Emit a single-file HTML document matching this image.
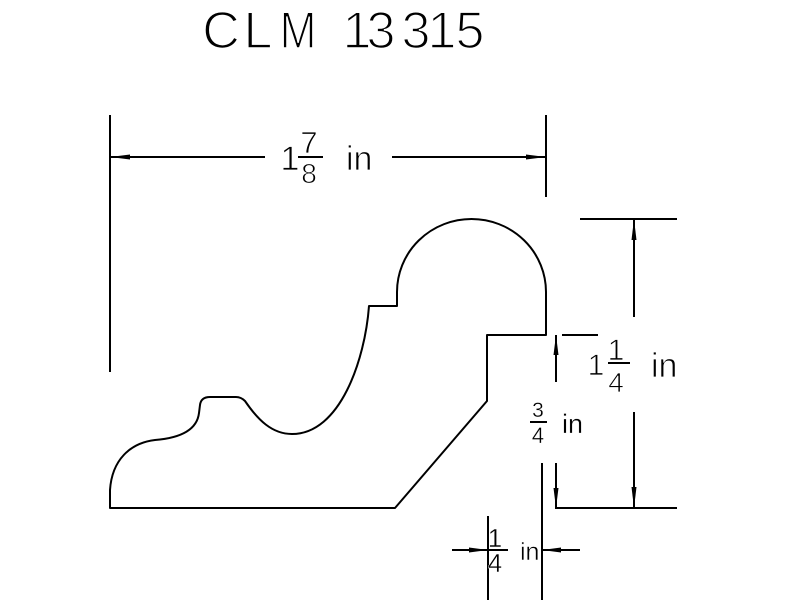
<!DOCTYPE html>
<html>
<head>
<meta charset="utf-8">
<style>
html,body{margin:0;padding:0;background:#fff;}
svg{display:block;}
text{font-family:"Liberation Sans",sans-serif;fill:#000;stroke:#fff;}
</style>
</head>
<body>
<svg width="800" height="600" viewBox="0 0 800 600" xmlns="http://www.w3.org/2000/svg">
<rect width="800" height="600" fill="#fff"/>

<!-- Title -->
<g font-size="52" stroke-width="1.6" text-anchor="middle">
<text x="221" y="48">C</text>
<text x="258" y="48">L</text>
<text x="298" y="48" transform="translate(298 0) scale(0.85 1) translate(-298 0)">M</text>
<text x="357" y="48">1</text>
<text x="381" y="48">3</text>
<text x="416" y="48">3</text>
<text x="442" y="48">1</text>
<text x="470" y="48">5</text>
</g>

<!-- Profile -->
<path d="M110 508 L395 508 L487 401 L487 335 L546 335 L546 292
A74.5 73 0 0 0 397 292 L397 306 L369 306
C365 360 340 434 292 434
C272 434 258 420 245 401
Q241 397 236 397 L210 397 Q201 397 200 405 L199 413
C197 430 180 438 155 440
C130 443 112 460 110 490 L110 508 Z"
fill="none" stroke="#000" stroke-width="2" stroke-linejoin="round"/>

<g stroke="#000" stroke-width="2" fill="none">
<!-- top horizontal dim -->
<line x1="110" y1="115" x2="110" y2="372"/>
<line x1="546" y1="115" x2="546" y2="197"/>
<line x1="110" y1="157" x2="265" y2="157"/>
<line x1="392" y1="157" x2="546" y2="157"/>
<line x1="298" y1="157" x2="323" y2="157"/>

<!-- right 1 1/4 dim -->
<line x1="580" y1="219" x2="677" y2="219"/>
<line x1="555" y1="508" x2="677" y2="508"/>
<line x1="634" y1="219" x2="634" y2="317"/>
<line x1="634" y1="412" x2="634" y2="508"/>
<line x1="608" y1="363" x2="630" y2="363"/>

<!-- 3/4 dim -->
<line x1="562" y1="335" x2="598" y2="335"/>
<line x1="556" y1="335" x2="556" y2="382"/>
<line x1="556" y1="463" x2="556" y2="508"/>
<line x1="530" y1="422" x2="547" y2="422"/>

<!-- bottom 1/4 dim -->
<line x1="542" y1="463" x2="542" y2="600"/>
<line x1="488" y1="516" x2="488" y2="600"/>
<line x1="452" y1="550" x2="508" y2="550"/>
<line x1="542" y1="550" x2="580" y2="550"/>
</g>

<!-- arrowheads -->
<g fill="#000" stroke="none">
<polygon points="110,157 130,154.5 130,159.5"/>
<polygon points="546,157 526,154.5 526,159.5"/>
<polygon points="634,219 631.5,240 636.5,240"/>
<polygon points="634,508 631.5,487 636.5,487"/>
<polygon points="556,335 553.5,355 558.5,355"/>
<polygon points="556,508 553.5,488 558.5,488"/>
<polygon points="488,550 469,547.5 469,552.5"/>
<polygon points="542,550 561,547.5 561,552.5"/>
</g>

<!-- 1 7/8 in -->
<g stroke-width="0.8">
<text x="290" y="170" font-size="34" text-anchor="middle">1</text>
<text x="309" y="153" font-size="31" text-anchor="middle">7</text>
<text x="309" y="183" font-size="28" text-anchor="middle">8</text>
<text x="346" y="170" font-size="34">in</text>
</g>

<!-- 1 1/4 in -->
<g stroke-width="0.8">
<text x="596" y="375" font-size="30" text-anchor="middle">1</text>
<text x="616" y="360" font-size="30" text-anchor="middle">1</text>
<text x="616" y="392" font-size="28" text-anchor="middle">4</text>
<text x="651" y="377" font-size="34">in</text>
</g>

<!-- 3/4 in -->
<g stroke-width="0.3">
<text x="538" y="417" font-size="21" text-anchor="middle">3</text>
<text x="538" y="443" font-size="22" text-anchor="middle">4</text>
<text x="562" y="433" font-size="27">in</text>
</g>

<!-- 1/4 in -->
<g stroke-width="0.4">
<text x="495" y="547" font-size="26" text-anchor="middle">1</text>
<text x="495" y="572" font-size="26" text-anchor="middle">4</text>
<text x="520" y="560" font-size="25">in</text>
</g>
</svg>
</body>
</html>
